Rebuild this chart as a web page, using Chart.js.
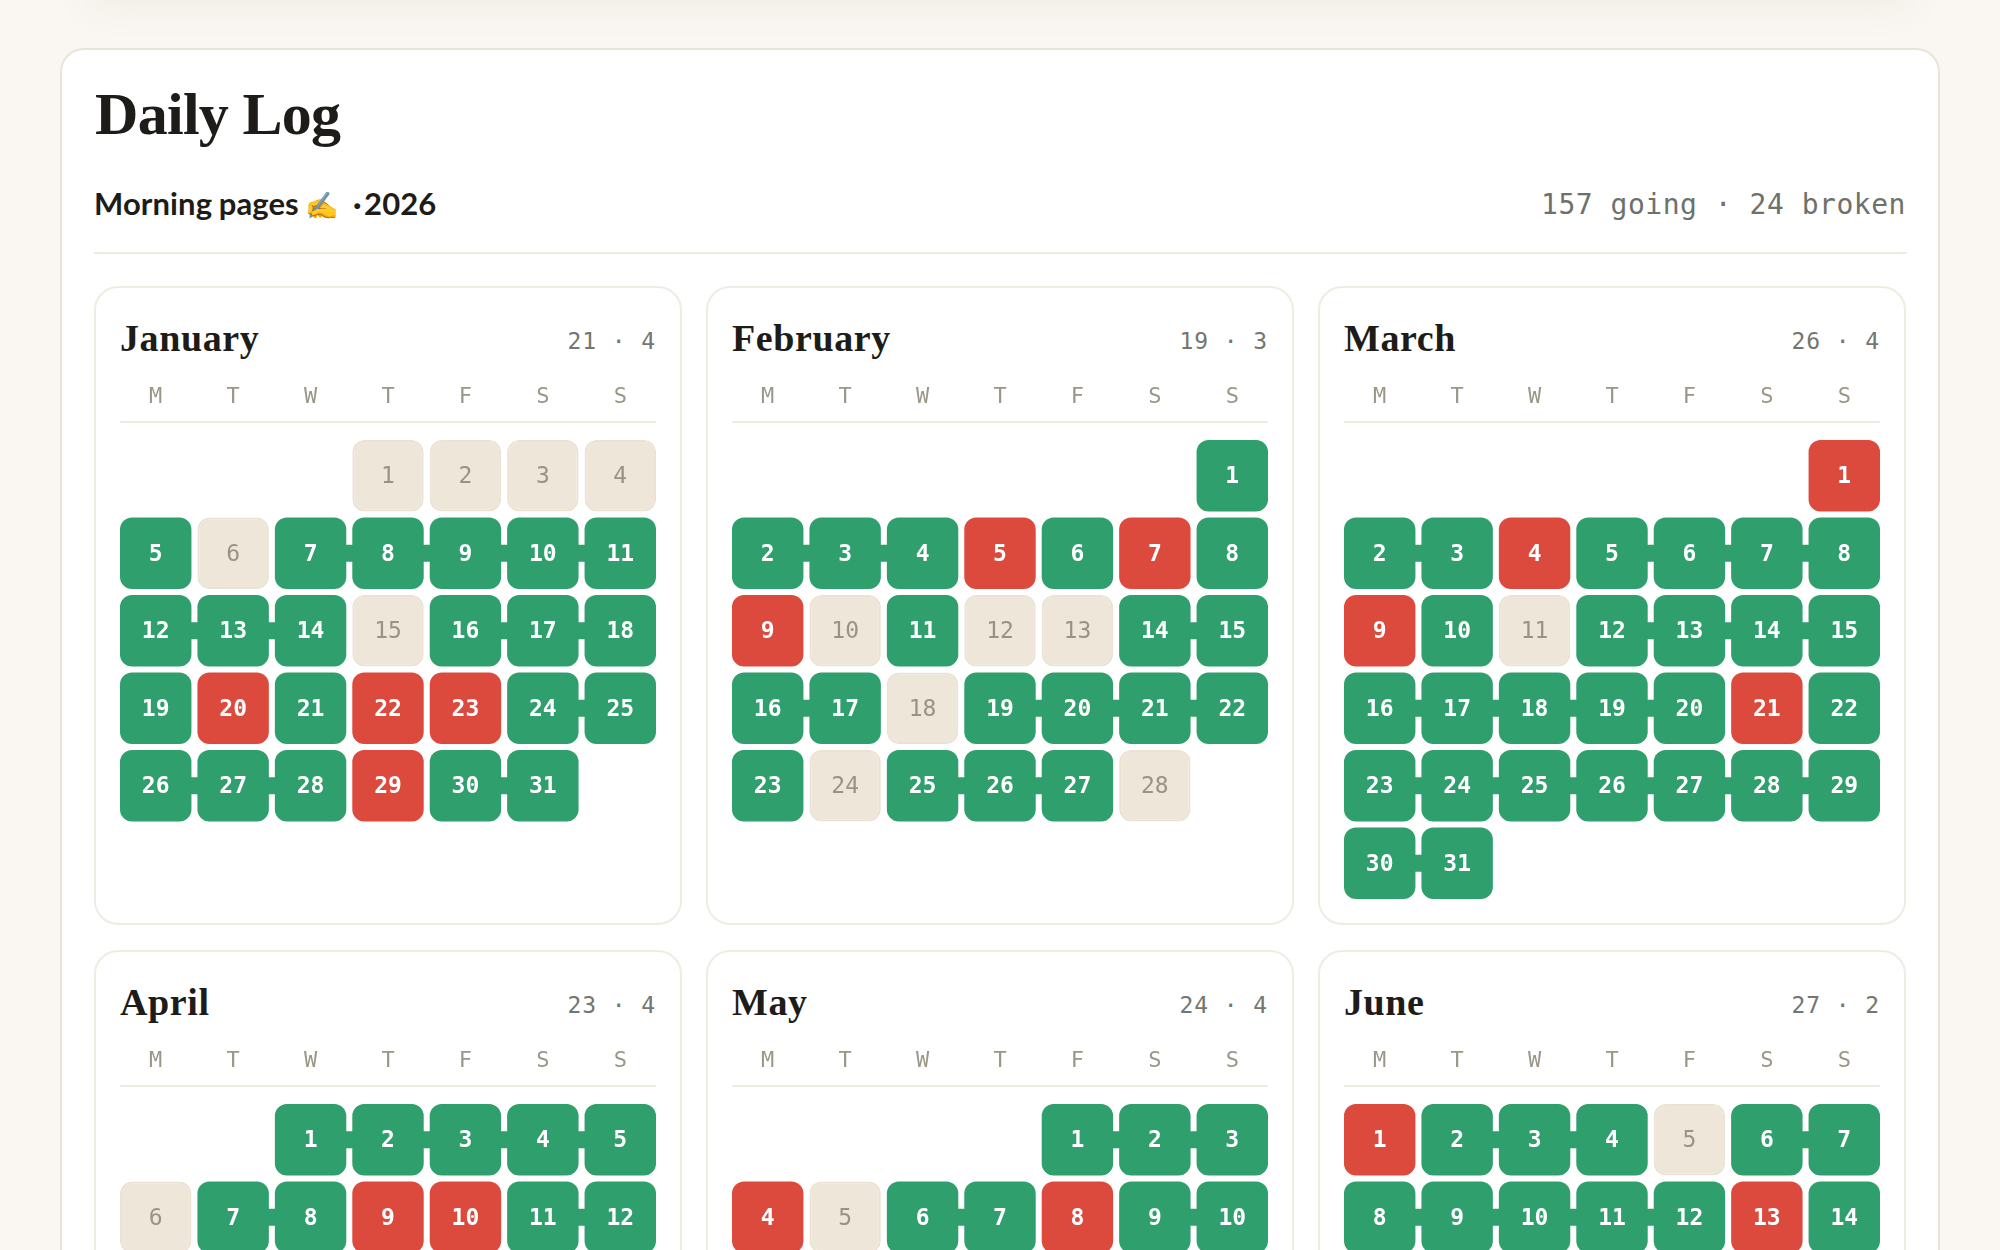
<!DOCTYPE html>
<html>
<head>
<meta charset="utf-8">
<title>Daily Log</title>
<script src="https://cdn.jsdelivr.net/npm/chart.js@4"></script>
<style>
  html, body { margin: 0; padding: 0; }
  body { width: 2000px; height: 1250px; overflow: hidden; position: relative; background: #faf7f2; }
  .above { position: absolute; left: 90px; top: -60px; width: 1820px; height: 50px; box-shadow: 0 12px 44px rgba(90, 70, 30, 0.075); }
  .panel { position: absolute; left: 60px; top: 48px; width: 1876px; height: 1400px; background: #fff; border: 2px solid #e9e4d8; border-radius: 24px; }
  .abs { position: absolute; white-space: nowrap; }
  .title { left: 95px; top: 80px; font: bold 60px "Liberation Serif", serif; color: #1e1c19; letter-spacing: -0.7px; }
  .sub { left: 94px; top: 184px; font: bold 31px Lato, sans-serif; color: #1e1c19; word-spacing: -1px; letter-spacing: 0.1px; }
  .sub .emoji { font-size: 27px; }
  .sub .year { word-spacing: -5px; }
  .totals { right: 94px; top: 188px; font: 28px "DejaVu Sans Mono", monospace; color: #6e716b; letter-spacing: 0.52px; }
  .rule { left: 94px; top: 252px; width: 1813px; height: 2px; background: #eeebe1; }
  .card { position: absolute; width: 584px; height: 635px; background: #fff; border: 2px solid #efece3; border-radius: 24px; }
  .month { left: 24px; top: 28px; font: bold 38px "Liberation Serif", serif; color: #1e1c19; letter-spacing: 0.6px; }
  .count { right: 24px; top: 40px; font: 23px "DejaVu Sans Mono", monospace; color: #74766f; letter-spacing: 0.9px; }
  .chart-box { position: absolute; left: 21px; top: 89px; width: 542px; height: 525px; }
</style>
</head>
<body>
<div class="above"></div>
<div class="panel"></div>
<div class="abs title">Daily Log</div>
<div class="abs sub">Morning pages <span class="emoji">✍️</span> &nbsp;<span class="year">· 2026</span></div>
<div class="abs totals">157 going · 24 broken</div>
<div class="abs rule"></div>

<script>
const weekdays = ['M', 'T', 'W', 'T', 'F', 'S', 'S'];
const monthNames = ['January', 'February', 'March', 'April', 'May', 'June'];
const firstWeekday = [3, 6, 6, 2, 4, 0];
const goingCounts = [21, 19, 26, 23, 24, 27];
const brokenCounts = [4, 3, 4, 4, 4, 2];

// g = going, b = broken, s = skipped. One entry per day of the month,
// Apr-Jun stop where the picture gets cut off
const januaryLog = ['s','s','s','s','g','s','g','g','g','g','g','g','g','g','s','g','g','g','g','b','g','b','b','g','g','g','g','g','b','g','g'];
const februaryLog = ['g','g','g','g','b','g','b','g','b','s','g','s','s','g','g','g','g','s','g','g','g','g','g','s','g','g','g','s'];
const marchLog = ['b','g','g','b','g','g','g','g','b','g','s','g','g','g','g','g','g','g','g','g','b','g','g','g','g','g','g','g','g','g','g'];
const aprilLog = ['g','g','g','g','g','s','g','g','b','b','g','g'];
const mayLog = ['g','g','g','b','s','g','g','b','g','g'];
const juneLog = ['b','g','g','g','s','g','g','g','g','g','g','g','b','g'];
const monthLogs = [januaryLog, februaryLog, marchLog, aprilLog, mayLog, juneLog];

const rowCount = 6;
const cellGap = 0.0387; // half the gap between rows, in row units
const fills = { g: '#2f9f6e', b: '#dc4a3e', s: '#eee6d9' };
const edges = { g: '#2f9f6e', b: '#dc4a3e', s: '#ebe2d4' };
const digitColors = { g: '#ffffff', b: '#ffffff', s: '#9c9283' };

// turn a month's log into week rows, each with seven slots
function buildWeeks(log, start) {
  const weeks = [];
  for (let r = 0; r < rowCount; r++) weeks.push(new Array(7).fill(null));
  log.forEach((status, i) => {
    const pos = i + start;
    weeks[Math.floor(pos / 7)][pos % 7] = { day: i + 1, status: status };
  });
  return weeks;
}

const cellPlugin = {
  id: 'cellPlugin',
  beforeDatasetsDraw(chart) {
    // the little bridge between two going days side by side
    const ctx = chart.ctx;
    const weeks = chart.options.plugins.cellPlugin.weeks;
    ctx.save();
    ctx.fillStyle = fills.g;
    weeks.forEach((week, r) => {
      const bars = chart.getDatasetMeta(r).data;
      for (let c = 0; c < 6; c++) {
        if (week[c] && week[c + 1] && week[c].status === 'g' && week[c + 1].status === 'g') {
          const midY = (bars[c].y + bars[c].base) / 2;
          ctx.fillRect(bars[c].x, midY - 8.5, bars[c + 1].x - bars[c].x, 17);
        }
      }
    });
    ctx.restore();
  },
  afterDatasetsDraw(chart) {
    const ctx = chart.ctx;
    const weeks = chart.options.plugins.cellPlugin.weeks;
    ctx.save();
    ctx.textAlign = 'center';
    ctx.textBaseline = 'middle';
    weeks.forEach((week, r) => {
      const bars = chart.getDatasetMeta(r).data;
      week.forEach((cell, c) => {
        if (!cell) return;
        ctx.font = (cell.status === 's' ? '' : 'bold ') + '23px "DejaVu Sans Mono", monospace';
        ctx.fillStyle = digitColors[cell.status];
        ctx.fillText(String(cell.day), bars[c].x, (bars[c].y + bars[c].base) / 2 + 1.5);
      });
    });
    // line under the weekday letters
    const area = chart.chartArea;
    ctx.fillStyle = '#eeebe1';
    ctx.fillRect(area.left + 3, area.top - 16, area.right - area.left - 6, 2);
    ctx.restore();
  }
};

function createMonthChart(canvas, index) {
  const weeks = buildWeeks(monthLogs[index], firstWeekday[index]);
  const datasets = weeks.map((week, r) => ({
    label: 'Week ' + (r + 1),
    data: week.map(cell => cell ? [r + cellGap, r + 1 - cellGap] : null),
    backgroundColor: week.map(cell => cell ? fills[cell.status] : 'transparent'),
    borderColor: week.map(cell => cell ? edges[cell.status] : 'transparent'),
    borderWidth: week.map(cell => cell && cell.status === 's' ? 2 : 0),
    borderSkipped: false,
    borderRadius: 12,
    inflateAmount: 0,
    grouped: false,
    barPercentage: 0.9225,
    categoryPercentage: 1
  }));

  return new Chart(canvas.getContext('2d'), {
    type: 'bar',
    data: { labels: weekdays, datasets: datasets },
    plugins: [cellPlugin],
    options: {
      responsive: true,
      maintainAspectRatio: false,
      animation: false,
      events: [],
      layout: { padding: 0 },
      plugins: {
        legend: { display: false },
        tooltip: { enabled: false },
        cellPlugin: { weeks: weeks }
      },
      scales: {
        x: {
          position: 'top',
          afterFit: scale => { scale.height = 60; },
          grid: { display: false, drawTicks: false },
          border: { display: false },
          ticks: {
            padding: 27,
            autoSkip: false,
            maxRotation: 0,
            color: '#9a9786',
            font: { family: '"DejaVu Sans Mono", monospace', size: 22 }
          }
        },
        y: { display: false, reverse: true, min: 0, max: rowCount }
      }
    }
  });
}

document.addEventListener('DOMContentLoaded', () => {
  monthNames.forEach((name, i) => {
    const card = document.createElement('div');
    card.className = 'card';
    card.style.left = (94 + (i % 3) * 612) + 'px';
    card.style.top = (286 + Math.floor(i / 3) * 664) + 'px';
    card.innerHTML =
      '<div class="abs month">' + name + '</div>' +
      '<div class="abs count">' + goingCounts[i] + ' · ' + brokenCounts[i] + '</div>' +
      '<div class="chart-box"><canvas></canvas></div>';
    document.body.appendChild(card);
    createMonthChart(card.querySelector('canvas'), i);
  });
});
</script>
</body>
</html>
